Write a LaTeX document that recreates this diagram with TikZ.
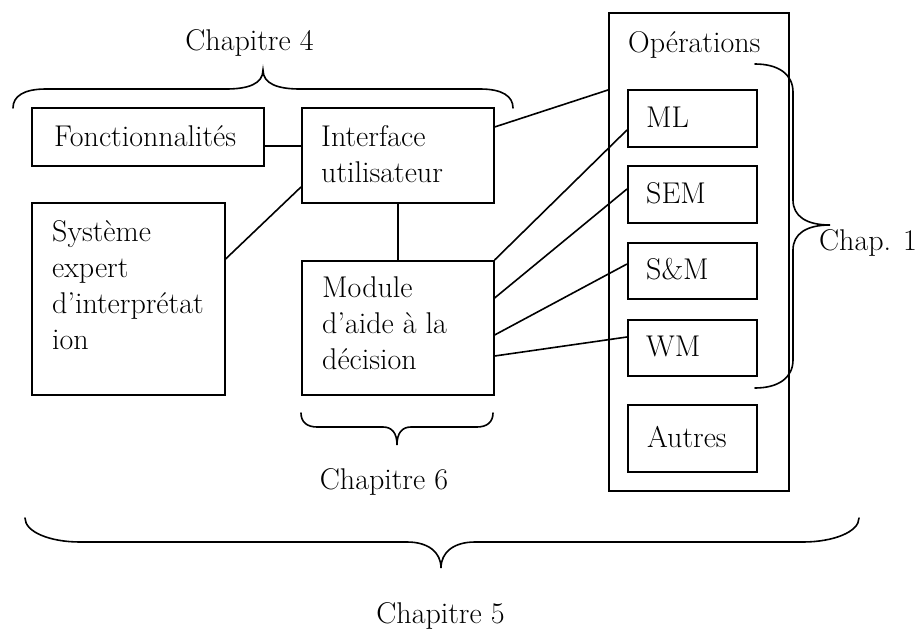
\documentclass[tikz,border=0pt]{standalone}
\usepackage{fontspec}
\begin{document}
\begin{tikzpicture}[x=1pt, y=-1pt,
  font=\fontsize{30}{36}\selectfont,
  box/.style={draw, line width=1.6pt, inner sep=0pt, anchor=north west},
  lbl/.style={inner sep=0pt},
  link/.style={line width=1.6pt},
  brace/.style={line width=1.6pt, line cap=round}]
\useasboundingbox (0,0) rectangle (916,632);

% boxes
\node[box, minimum width=232pt, minimum height=58pt]  (fonct)  at (31,107)  {};
\node[box, minimum width=192pt, minimum height=95pt]  (iface)  at (301,107) {};
\node[box, minimum width=193pt, minimum height=192pt] (sys)    at (31,202)  {};
\node[box, minimum width=192pt, minimum height=134pt] (mod)    at (301,260) {};
\node[box, minimum width=180pt, minimum height=478pt] (ops)    at (608,12)  {};
\node[box, minimum width=129pt, minimum height=57pt]  (ml)     at (627,89)  {};
\node[box, minimum width=129pt, minimum height=57pt]  (sem)    at (627,165) {};
\node[box, minimum width=129pt, minimum height=56pt]  (sm)     at (627,242) {};
\node[box, minimum width=129pt, minimum height=56pt]  (wm)     at (627,319) {};
\node[box, minimum width=129pt, minimum height=67pt]  (autres) at (627,404) {};

% box texts (multi-line texts are anchored on their last baseline)
\node[lbl, anchor=base west] (tfonct) at (54,146) {Fonctionnalités};
\node[lbl, anchor=base west, align=left] (tiface) at (321,182) {Interface\\utilisateur};
\node[lbl, anchor=base west, align=left] (tsys) at (52,349) {Système\\expert\\d’interprétat\\ion};
\node[lbl, anchor=base west, align=left] (tmod) at (322,369) {Module\\d’aide à la\\décision};
\node[lbl, anchor=base west] (tops) at (628,52) {Opérations};
\node[lbl, anchor=base west] (tml) at (646,127) {ML};
\node[lbl, anchor=base west] (tsem) at (646,203) {SEM};
\node[lbl, anchor=base west] (tsm) at (646,279) {S\&M};
\node[lbl, anchor=base west] (twm) at (646,356) {WM};
\node[lbl, anchor=base west] (tautres) at (647,447) {Autres};

% chapter labels
\node[lbl, anchor=base] (ch4) at (249.5,50) {Chapitre 4};
\node[lbl, anchor=base] (ch6) at (384,489) {Chapitre 6};
\node[lbl, anchor=base] (ch5) at (440.5,623) {Chapitre 5};
\node[lbl, anchor=base west] (ch1) at (819,250) {Chap. 1};

% connectors
\draw[link] (fonct.east |- 0,146) -- (iface.west |- 0,146);
\draw[link] (iface.west |- 0,187) -- (sys.east |- 0,259);
\draw[link] (iface.south) -- (mod.north);
\draw[link] (iface.east |- 0,127) -- (ops.west |- 0,90);
\draw[link] (mod.north east) -- (ml.west |- 0,130);
\draw[link] (mod.east |- 0,298) -- (sem.west |- 0,189);
\draw[link] (mod.east |- 0,335) -- (sm.west |- 0,264);
\draw[link] (mod.east |- 0,356) -- (wm.west |- 0,337);

% braces
\draw[brace] (13,108) .. controls (13,96) and (24,89) .. (46,89) -- (226,89)
  .. controls (248,89) and (263,84) .. (263,70)
  .. controls (263,84) and (278,89) .. (300,89) -- (480,89)
  .. controls (502,89) and (513,96) .. (513,108);
\draw[brace] (301,413) .. controls (301,422) and (307,427) .. (317,427) -- (383,427)
  .. controls (392,427) and (397,433) .. (397,445)
  .. controls (397,433) and (402,427) .. (411,427) -- (477,427)
  .. controls (487,427) and (493,422) .. (493,413);
\draw[brace] (25,518) .. controls (25,532) and (50,542) .. (80,542) -- (407,542)
  .. controls (428,542) and (441,552) .. (441,568)
  .. controls (441,552) and (454,542) .. (475,542) -- (803,542)
  .. controls (833,542) and (859,532) .. (859,518);
\draw[brace] (755,64) .. controls (778,64) and (793,74) .. (793,92) -- (793,200)
  .. controls (793,216) and (806,225) .. (830,225)
  .. controls (806,225) and (793,234) .. (793,250) -- (793,360)
  .. controls (793,378) and (778,388) .. (755,388);
\end{tikzpicture}
\end{document}
